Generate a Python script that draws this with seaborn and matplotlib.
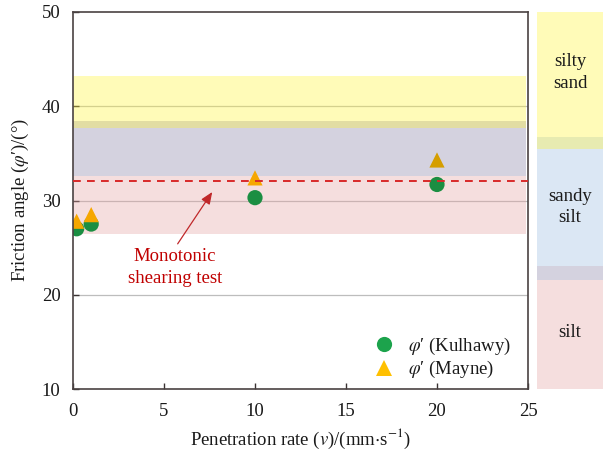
import matplotlib
matplotlib.use("Agg")
import matplotlib.pyplot as plt
import matplotlib.colors as mcolors
import seaborn as sns
import pandas as pd
import numpy as np

# ---- data ----
rates = [0.2, 1, 10, 20]
phi_kulhawy = [27.0, 27.5, 30.3, 31.7]
phi_mayne = [27.8, 28.5, 32.4, 34.3]
monotonic_phi = 32.1
series_labels = ["$\\varphi$\u2032 (Kulhawy)", "$\\varphi$\u2032 (Mayne)"]

# main-panel range bands (low, high)
main_band_ranges = [(26.4, 38.4), (32.6, 38.4), (37.7, 43.2)]
# side-panel soil-type ranges (low, high)
soil_names = ["silt", "sandy\nsilt", "silty\nsand"]
soil_ranges = [(10.0, 23.0), (21.6, 36.7), (35.5, 50.0)]
soil_label_y = [16.0, 29.3, 43.6]
band_colors = ["#E5A1A1", "#98BCE1", "#FFF434"]
BAND_ALPHA = 0.35

xticks = [0, 5, 10, 15, 20, 25]
yticks = [10, 20, 30, 40, 50]

sns.set_theme(style="white")
plt.rcParams["font.family"] = ["Liberation Serif", "DejaVu Serif"]
plt.rcParams["mathtext.fontset"] = "stix"
FS = 13.5

fig = plt.figure(figsize=(6.05, 4.57), dpi=100)
ax = fig.add_axes([73 / 605, 68 / 457, 455 / 605, 377 / 457])
ax2 = fig.add_axes([537 / 605, 68 / 457, 66 / 605, 377 / 457])

df = pd.DataFrame({
    "rate": rates + rates,
    "phi": phi_kulhawy + phi_mayne,
    "method": [series_labels[0]] * len(rates) + [series_labels[1]] * len(rates),
})

sns.scatterplot(data=df, x="rate", y="phi", hue="method", style="method",
                palette={series_labels[0]: "#1CA34C", series_labels[1]: "#FFC000"},
                markers={series_labels[0]: "o", series_labels[1]: "^"},
                s=120, edgecolor="none", linewidth=0, ax=ax, zorder=2.5, legend=True)

# emulate multiply blending of the translucent bands over the markers
def band_bg(y):
    bg = np.ones(3)
    for (lo, hi), c in zip(main_band_ranges, band_colors):
        if lo <= y <= hi:
            bg = bg * (1 - BAND_ALPHA) + np.array(mcolors.to_rgb(c)) * BAND_ALPHA
    return bg

for coll in ax.collections:
    offs = coll.get_offsets()
    fcs = coll.get_facecolors()
    if len(fcs) == len(offs) and len(offs) > 0:
        new = []
        for (xv, yv), fc in zip(offs, fcs):
            rgb = np.array(fc[:3]) * band_bg(yv)
            new.append((*rgb, 1.0))
        coll.set_facecolors(new)

# horizontal gridlines
for yv in yticks[1:-1]:
    ax.axhline(yv, color="#BDBDBD", lw=0.9, zorder=0.5)

# translucent bands
for (lo, hi), c in zip(main_band_ranges, band_colors):
    ax.axhspan(lo, hi, xmin=0.0, xmax=0.995, color=c, alpha=BAND_ALPHA, lw=0, zorder=2)

ax.axhline(monotonic_phi, color="#D92A2A", lw=1.4, ls=(0, (4, 3.2)), zorder=3)

ax.text(5.6, 22.85, "Monotonic\nshearing test", color="#C00000", fontsize=FS,
        ha="center", va="center", linespacing=1.38, zorder=4)
ax.annotate("", xy=(7.65, 30.9), xytext=(5.75, 25.4),
            arrowprops=dict(arrowstyle="-|>,head_length=0.6,head_width=0.25",
                            color="#C0282A", lw=0.9, shrinkA=0, shrinkB=0), zorder=4)

ax.set_xlim(0, 25)
ax.set_ylim(10, 50)
ax.set_xticks(xticks)
ax.set_yticks(yticks)
ax.tick_params(axis="both", which="major", direction="in", length=4, width=1,
               color="#3A3333", labelsize=FS, labelcolor="#1A1A1A")
ax.tick_params(axis="x", pad=10)
ax.tick_params(axis="y", pad=9)
ax.tick_params(top=False, right=False, bottom=True, left=True)
for sp in ax.spines.values():
    sp.set_color("#4A4242")
    sp.set_linewidth(1.2)
ax.set_xlabel("Penetration rate ($v$)/(mm$\\cdot$s$^{-1}$)", fontsize=FS,
              color="#1A1A1A", labelpad=5)
ax.set_ylabel("Friction angle ($\\varphi$\u2032)/(°)", fontsize=FS, color="#1A1A1A",
              labelpad=8)

leg = ax.legend(loc="lower right", bbox_to_anchor=(1.0, -0.022), frameon=False,
                fontsize=FS, handletextpad=0.3, labelspacing=0.12, markerscale=1.0,
                borderaxespad=0.5)
for t in leg.get_texts():
    t.set_color("#1A1A1A")

# side panel with soil types
for (lo, hi), c in zip(soil_ranges, band_colors):
    ax2.axhspan(lo, hi, color=c, alpha=BAND_ALPHA, lw=0)
for name, yv in zip(soil_names, soil_label_y):
    ax2.text(0.5, yv, name, ha="center", va="center", fontsize=FS,
             color="#1A1A1A", linespacing=1.35)
ax2.set_xlim(0, 1)
ax2.set_ylim(10, 50)
ax2.set_xticks([])
ax2.set_yticks([])
for sp in ax2.spines.values():
    sp.set_visible(False)

fig.savefig("out.png", dpi=100)
